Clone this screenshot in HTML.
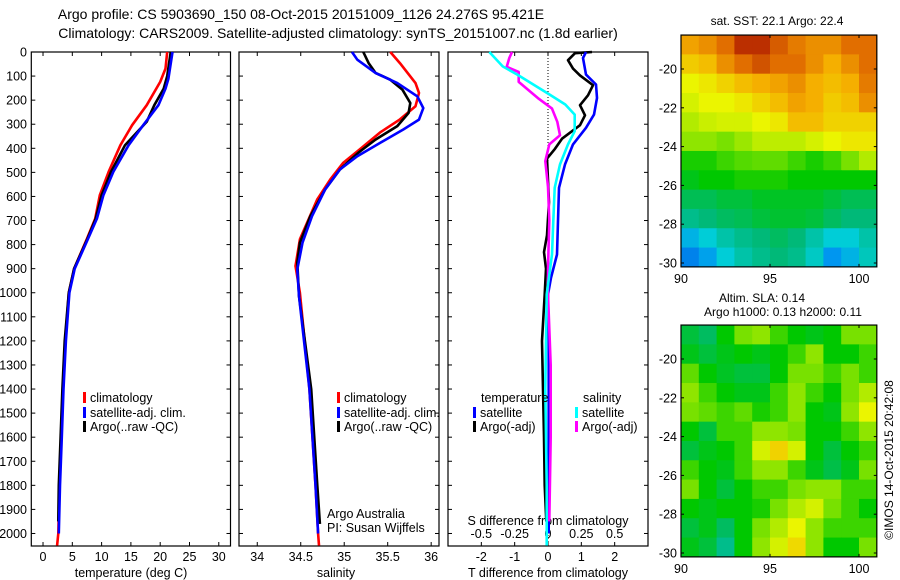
<!DOCTYPE html>
<html><head><meta charset="utf-8"><style>
html,body{margin:0;padding:0;background:#fff;}
svg{display:block;font-family:"Liberation Sans",sans-serif;}
</style></head><body>
<svg id="chart" width="900" height="580" viewBox="0 0 900 580" xmlns="http://www.w3.org/2000/svg">
<text x="301" y="19" font-size="14" text-anchor="middle">Argo profile: CS 5903690_150 08-Oct-2015 20151009_1126 24.276S 95.421E</text>
<text x="338" y="38" font-size="14" text-anchor="middle">Climatology: CARS2009. Satellite-adjusted climatology: synTS_20151007.nc (1.8d earlier)</text>
<g id="g"></g>
</svg>
<script>
// ===== profile data (depth m, value) =====
const tClimDepth=[0,69,124,221,304,387,498,595,692,775,900,1000,1200,1400,1600,1800,2000,2050];
const tClimVal=[21.2,20.9,20.0,17.7,15.2,13.2,11.2,9.7,8.9,7.5,5.3,4.4,3.8,3.4,3.1,2.8,2.6,2.4];
const tSatDepth=[0,111,152,221,304,387,498,595,692,775,900,1000,1200,1400,1600,1800,2000];
const tSatVal=[22.1,21.4,20.9,19.7,17.1,14.6,12.0,10.3,9.2,7.7,5.4,4.5,3.9,3.5,3.2,2.9,2.7];
const tArgoDepth=[0,100,152,221,290,387,498,595,692,775,900,1000,1200,1400,1600,1800,1950];
const tArgoVal=[21.8,21.2,20.6,19.0,17.7,14.0,11.6,10.0,9.0,7.6,5.3,4.4,3.7,3.3,3.0,2.7,2.6];

const sClimDepth=[0,46,129,170,225,280,335,404,460,529,612,695,778,889,1000,1400,1800,2000,2050];
const sClimVal=[35.53,35.64,35.82,35.86,35.82,35.64,35.41,35.18,34.99,34.84,34.69,34.59,34.49,34.44,34.49,34.60,34.67,34.70,34.71];
const sSatDepth=[0,32,87,129,184,233,281,322,378,433,488,571,682,792,903,1014,1400,1800,2000];
const sSatVal=[35.09,35.15,35.36,35.61,35.84,35.91,35.86,35.68,35.41,35.15,34.95,34.78,34.63,34.52,34.46,34.48,34.60,34.67,34.70];
const sArgoDepth=[0,46,87,115,157,212,253,308,364,419,488,571,682,792,875,1014,1400,1800,1960];
const sArgoVal=[35.22,35.28,35.36,35.53,35.67,35.76,35.74,35.61,35.36,35.16,34.95,34.78,34.61,34.49,34.46,34.48,34.62,34.69,34.72];

const dTSatDepth=[0,25,94,135,191,260,315,384,467,564,702,841,938,1007,1200,1500,1800,2000];
const dTSatVal=[1.14,1.05,1.14,1.44,1.47,1.38,1.14,0.75,0.51,0.33,0.30,0.27,0.09,0.0,0.02,0.02,0.02,0.02];
const dTArgoDepth=[0,5,34,69,97,138,180,221,263,304,360,402,443,623,761,831,900,1007,1200,1400,1600,1800,1950];
const dTArgoVal=[1.32,0.81,0.60,0.75,0.96,1.35,1.20,0.96,1.11,0.96,0.42,0.21,-0.03,0.03,-0.03,-0.12,-0.06,-0.1,-0.18,-0.15,-0.12,-0.1,-0.05];
const dSSatDepth=[0,12,60,94,135,176,218,260,329,384,467,564,702,841,1007,1400,1800,2050];
const dSSatVal=[-0.44,-0.42,-0.34,-0.23,-0.11,0.01,0.13,0.20,0.20,0.15,0.09,0.05,0.04,0.03,-0.01,-0.02,-0.01,-0.01];
const dSArgoDepth=[0,25,62,83,124,152,194,235,290,346,384,453,560,700,900,1007,1300,1600,1950];
const dSArgoVal=[-0.27,-0.29,-0.31,-0.22,-0.22,-0.16,-0.07,0.03,0.07,0.09,0.01,-0.02,0.0,0.01,0.0,0.0,0.02,0.02,0.01];

const depthTicks=[0,100,200,300,400,500,600,700,800,900,1000,1100,1200,1300,1400,1500,1600,1700,1800,1900,2000];
const tTicks=[0,5,10,15,20,25,30];
const sTicks=[34,34.5,35,35.5,36];
const dTTicks=[-2,-1,0,1,2];
const dSTicks=[-0.5,-0.25,0,0.25,0.5];
const dSTickLabels=["-0.5","-0.25","0","0.25","0.5"];
const latTicks=[-20,-22,-24,-26,-28,-30];
const lonTicks=[90,95,100];

// map grids (rows from north to south, 1 deg cells, cols 90..101)
const sstGrid=[
[0.82,0.85,0.9,0.97,0.97,0.92,0.88,0.85,0.85,0.9,0.9],
[0.76,0.78,0.85,0.9,0.93,0.9,0.9,0.85,0.8,0.85,0.9],
[0.7,0.72,0.75,0.78,0.8,0.82,0.85,0.8,0.78,0.8,0.88],
[0.68,0.7,0.7,0.72,0.75,0.78,0.82,0.8,0.76,0.78,0.85],
[0.65,0.67,0.68,0.68,0.7,0.72,0.78,0.78,0.75,0.75,0.75],
[0.62,0.62,0.6,0.63,0.66,0.66,0.66,0.68,0.7,0.72,0.72],
[0.52,0.52,0.55,0.57,0.58,0.58,0.55,0.52,0.55,0.6,0.65],
[0.48,0.5,0.5,0.52,0.52,0.52,0.5,0.5,0.5,0.5,0.5],
[0.43,0.43,0.45,0.45,0.47,0.47,0.47,0.47,0.45,0.43,0.43],
[0.38,0.4,0.42,0.43,0.45,0.46,0.46,0.45,0.42,0.4,0.4],
[0.25,0.3,0.35,0.38,0.4,0.42,0.4,0.35,0.3,0.3,0.35],
[0.15,0.22,0.3,0.35,0.38,0.4,0.38,0.32,0.2,0.25,0.33]];
const slaGrid=[
[0.45,0.42,0.5,0.6,0.62,0.55,0.5,0.48,0.5,0.6,0.6],
[0.48,0.45,0.48,0.5,0.48,0.5,0.55,0.62,0.5,0.5,0.55],
[0.58,0.5,0.47,0.45,0.45,0.5,0.6,0.6,0.55,0.6,0.55],
[0.62,0.55,0.5,0.48,0.48,0.55,0.62,0.55,0.5,0.6,0.65],
[0.6,0.58,0.55,0.58,0.52,0.55,0.62,0.5,0.48,0.62,0.7],
[0.5,0.45,0.55,0.55,0.62,0.62,0.6,0.5,0.5,0.55,0.62],
[0.45,0.48,0.5,0.55,0.68,0.75,0.68,0.5,0.45,0.5,0.55],
[0.55,0.5,0.48,0.55,0.62,0.62,0.55,0.48,0.44,0.48,0.6],
[0.6,0.5,0.45,0.5,0.55,0.55,0.6,0.62,0.62,0.55,0.55],
[0.5,0.48,0.5,0.5,0.52,0.6,0.65,0.68,0.6,0.55,0.5],
[0.45,0.48,0.42,0.5,0.6,0.65,0.7,0.62,0.55,0.55,0.55],
[0.48,0.45,0.38,0.5,0.62,0.68,0.74,0.62,0.5,0.5,0.6]];

const NS="http://www.w3.org/2000/svg";
const G=document.getElementById('g');
function el(tag,attrs,parent,txt){const e=document.createElementNS(NS,tag);for(const k in attrs)e.setAttribute(k,attrs[k]);if(txt!==undefined)e.textContent=txt;(parent||G).appendChild(e);return e;}

const Y0=52,Y1=546,D1=2052;
const yD=d=>Y0+d*(Y1-Y0)/D1;
function lin(d0,d1,r0,r1){return v=>r0+(v-d0)*(r1-r0)/(d1-d0);}
const xT=lin(-2,32,31.3,230.5);
const xS=lin(33.79,36.09,239,439);
const xDT=lin(-3,3,448,648);
const xDS=lin(-0.75,0.75,448,648);

function frame(x0,x1,name){
  const r=el('rect',{x:x0,y:Y0,width:x1-x0,height:Y1-Y0,fill:'none',stroke:'#000','stroke-width':1.2});
  
  
}
frame(31.3,230.5,'temperature-panel-frame');
frame(239,439,'salinity-panel-frame');
frame(448,648,'difference-panel-frame');

depthTicks.forEach(d=>{
  const y=yD(d);
  [[31.3,230.5],[239,439],[448,648]].forEach(p=>{
    el('line',{x1:p[0],x2:p[0]+4,y1:y,y2:y,stroke:'#000'});
    el('line',{x1:p[1],x2:p[1]-4,y1:y,y2:y,stroke:'#000'});
  });
  const t=el('text',{x:27,y:y+4.5,'font-size':12.5,'text-anchor':'end'},G,String(d));
  
  
});
function xticks(ticks,fx,labels,ly,name){
  ticks.forEach((v,i)=>{
    const x=fx(v);
    el('line',{x1:x,x2:x,y1:Y0,y2:Y0+4,stroke:'#000'});
    el('line',{x1:x,x2:x,y1:Y1,y2:Y1-4,stroke:'#000'});
    if(ly){const t=el('text',{x:x,y:ly,'font-size':12.5,'text-anchor':'middle'},G,labels?labels[i]:String(v));
    
    }
  });
}
xticks(tTicks,xT,null,561,'temperature-tick-label');
xticks(sTicks,xS,null,561,'salinity-tick-label');
xticks(dTTicks,xDT,null,561,'t-diff-tick-label');
dSTicks.forEach((v,i)=>{const t=el('text',{x:xDS(v),y:538,'font-size':12.5,'text-anchor':'middle'},G,dSTickLabels[i]);

});

function label(x,y,txt,name,anchor,size){const t=el('text',{x:x,y:y,'font-size':size||12.5,'text-anchor':anchor||'middle'},G,txt);

return t;}
label(131,577,'temperature (deg C)','temperature-axis-title');
label(336,577,'salinity','salinity-axis-title');
label(548,577,'T difference from climatology','t-diff-axis-title');
label(548,525,'S difference from climatology','s-diff-axis-title');
label(327,518,'Argo Australia','credit-argo-australia','start');
label(327,532,'PI: Susan Wijffels','credit-pi','start');

el('line',{x1:xDT(0),x2:xDT(0),y1:Y0,y2:Y1,stroke:'#000','stroke-dasharray':'1,2','stroke-width':1});

function line(ds,vs,fx,color,name){
  const pts=ds.map((d,i)=>fx(vs[i]).toFixed(1)+','+yD(d).toFixed(1)).join(' ');
  const p=el('polyline',{points:pts,fill:'none',stroke:color,'stroke-width':2.6,'stroke-linejoin':'round'});
  
  
}
line(tClimDepth,tClimVal,xT,'#ff0000','temp-climatology-line');
line(tArgoDepth,tArgoVal,xT,'#000000','temp-argo-line');
line(tSatDepth,tSatVal,xT,'#0000ff','temp-satellite-line');
line(sClimDepth,sClimVal,xS,'#ff0000','sal-climatology-line');
line(sArgoDepth,sArgoVal,xS,'#000000','sal-argo-line');
line(sSatDepth,sSatVal,xS,'#0000ff','sal-satellite-line');
line(dTArgoDepth,dTArgoVal,xDT,'#000000','t-diff-argo-line');
line(dTSatDepth,dTSatVal,xDT,'#0000ff','t-diff-satellite-line');
line(dSArgoDepth,dSArgoVal,xDS,'#ff00ff','s-diff-argo-line');
line(dSSatDepth,dSSatVal,xDS,'#00ffff','s-diff-satellite-line');

function legend(x,y,color,txt,name){
  el('rect',{x:x,y:y-10,width:3,height:11,fill:color});
  const t=el('text',{x:x+7,y:y,'font-size':12.5},G,txt);
  
  
}
legend(83,402,'#ff0000','climatology','legend-temp-climatology');
legend(83,417,'#0000ff','satellite-adj. clim.','legend-temp-satellite');
legend(83,431,'#000000','Argo(..raw -QC)','legend-temp-argo');
legend(337,402,'#ff0000','climatology','legend-sal-climatology');
legend(337,417,'#0000ff','satellite-adj. clim.','legend-sal-satellite');
legend(337,431,'#000000','Argo(..raw -QC)','legend-sal-argo');
label(481,402,'temperature','legend-diff-temperature-header','start');
legend(473,417,'#0000ff','satellite','legend-t-diff-satellite');
legend(473,431,'#000000','Argo(-adj)','legend-t-diff-argo');
label(583,402,'salinity','legend-diff-salinity-header','start');
legend(575,417,'#00ffff','satellite','legend-s-diff-satellite');
legend(575,431,'#ff00ff','Argo(-adj)','legend-s-diff-argo');

const stops=[[0,[0,70,220]],[0.2,[0,150,240]],[0.3,[0,205,215]],[0.4,[0,185,120]],[0.5,[0,200,0]],[0.6,[120,225,0]],[0.7,[235,245,0]],[0.8,[245,175,0]],[0.9,[225,110,0]],[1,[170,20,0]]];
function cmap(v){v=Math.max(0,Math.min(1,v));for(let i=1;i<stops.length;i++){if(v<=stops[i][0]){const a=stops[i-1],b=stops[i],f=(v-a[0])/(b[0]-a[0]);return 'rgb('+a[1].map((c,k)=>Math.round(c+(b[1][k]-c)*f)).join(',')+')';}}return 'rgb(170,20,0)';}
function map(grid,top,name){
  const xL=lon=>681+(lon-90)*17.8;
  const yL=lat=>top+34+(-20-lat)*19.4;
  const latTop=-18.25, x0=xL(90), x1=xL(101), y0=yL(latTop), y1=yL(-30.2);
  const g=el('g',{});
  
  
  const rows=grid.length, cols=grid[0].length;
  const cw=(x1-x0)/cols, ch=(y1-y0)/rows;
  grid.forEach((row,r)=>row.forEach((v,c)=>{
    el('rect',{x:(x0+c*cw).toFixed(2),y:(y0+r*ch).toFixed(2),width:(cw+0.6).toFixed(2),height:(ch+0.6).toFixed(2),fill:cmap(v)},g);
  }));
  el('rect',{x:x0,y:y0,width:x1-x0,height:y1-y0,fill:'none',stroke:'#000','stroke-width':1.2},g);
  latTicks.forEach(l=>{const y=yL(l);
    el('line',{x1:x0,x2:x0+3,y1:y,y2:y,stroke:'#000'},g);el('line',{x1:x1,x2:x1-3,y1:y,y2:y,stroke:'#000'},g);
    const t=el('text',{x:x0-4,y:y+4.5,'font-size':12.5,'text-anchor':'end'},g,String(l));
    
    });
  lonTicks.forEach(l=>{const x=xL(l);
    el('line',{x1:x,x2:x,y1:y0,y2:y0+3,stroke:'#000'},g);el('line',{x1:x,x2:x,y1:y1,y2:y1-3,stroke:'#000'},g);
    const t=el('text',{x:x,y:y1+16,'font-size':12.5,'text-anchor':'middle'},g,String(l));
    
    });
}
map(sstGrid,35,'sst-map');
map(slaGrid,325,'sla-map');
label(777,25,'sat. SST: 22.1 Argo: 22.4','sst-map-title',null,12);
label(762,302,'Altim. SLA: 0.14','sla-map-title',null,12);
label(783,316,'Argo h1000: 0.13 h2000: 0.11','sla-map-subtitle',null,12);
const im=label(0,0,'©IMOS 14-Oct-2015 20:42:08','imos-timestamp',null,12);
im.setAttribute('transform','translate(893,460) rotate(-90)');
</script>
</body></html>
